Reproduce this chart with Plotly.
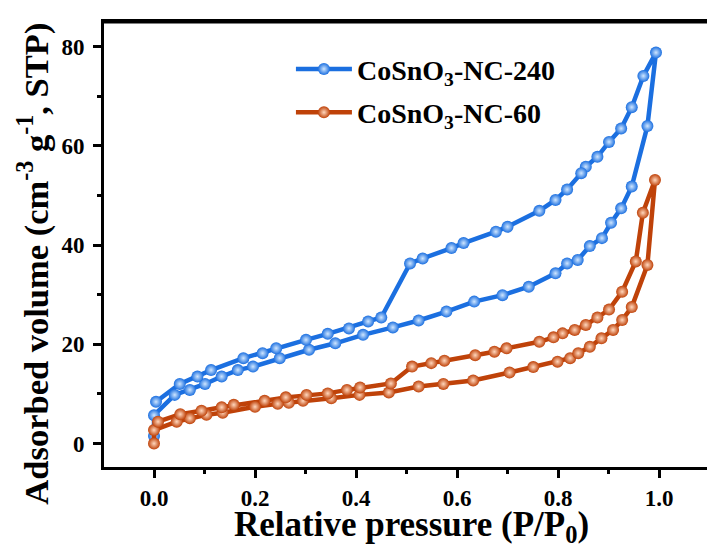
import plotly.graph_objects as go

# CoSnO3-NC-240 adsorption branch
nc240_ads_p = [0.000, 0.000, 0.041, 0.071, 0.101, 0.134, 0.166, 0.196, 0.249, 0.307, 0.359, 0.414,
               0.473, 0.524, 0.579, 0.634, 0.690, 0.742, 0.795, 0.818, 0.839, 0.863, 0.887, 0.905,
               0.925, 0.946, 0.977, 0.994]
nc240_ads_v = [1.5, 5.7, 9.8, 10.8, 12.0, 13.5, 14.8, 15.5, 17.2, 18.9, 20.2, 21.9,
               23.4, 24.8, 26.6, 28.6, 29.9, 31.6, 34.3, 36.3, 37.0, 39.8, 41.4, 44.5,
               47.4, 51.8, 64.0, 78.8]
# CoSnO3-NC-240 desorption branch
nc240_des_p = [0.969, 0.946, 0.925, 0.901, 0.878, 0.855, 0.846, 0.818, 0.795, 0.763, 0.700, 0.677,
               0.613, 0.589, 0.532, 0.507, 0.450, 0.424, 0.386, 0.344, 0.301, 0.242, 0.215, 0.177,
               0.113, 0.086, 0.051, 0.004]
nc240_des_v = [74.1, 67.8, 63.5, 60.8, 57.8, 55.8, 54.5, 51.2, 49.1, 46.9, 43.7, 42.7,
               40.4, 39.4, 37.3, 36.3, 25.4, 24.6, 23.2, 22.1, 20.9, 19.2, 18.2, 17.2,
               14.8, 13.5, 12.0, 8.4]

# CoSnO3-NC-60 adsorption branch
nc60_ads_p = [0.000, 0.000, 0.045, 0.071, 0.104, 0.136, 0.200, 0.245, 0.267, 0.295, 0.351, 0.407,
              0.465, 0.524, 0.573, 0.632, 0.704, 0.751, 0.799, 0.824, 0.840, 0.863, 0.886, 0.909,
              0.927, 0.946, 0.977, 0.992]
nc60_ads_v = [0.0, 2.7, 4.4, 5.1, 5.8, 6.2, 7.4, 8.0, 8.2, 8.6, 9.1, 9.8,
              10.3, 11.5, 12.0, 12.7, 14.3, 15.4, 16.5, 17.2, 18.2, 19.5, 21.2, 22.9,
              24.9, 27.5, 36.0, 53.1]
# CoSnO3-NC-60 desorption branch
nc60_des_p = [0.968, 0.954, 0.927, 0.901, 0.878, 0.855, 0.833, 0.809, 0.791, 0.763, 0.698, 0.674,
              0.636, 0.575, 0.549, 0.511, 0.469, 0.408, 0.382, 0.344, 0.302, 0.261, 0.219, 0.158,
              0.134, 0.094, 0.052, 0.008]
nc60_des_v = [46.5, 36.7, 30.6, 27.0, 25.4, 23.9, 22.9, 22.2, 21.4, 20.5, 19.2, 18.5,
              17.8, 16.7, 16.2, 15.5, 12.1, 11.3, 10.8, 10.1, 9.8, 9.3, 8.6, 7.8,
              7.3, 6.6, 5.9, 4.4]

series_names = ["CoSnO<sub>3</sub>-NC-240", "CoSnO<sub>3</sub>-NC-60"]
x_title = "Relative pressure (P/P<sub>0</sub>)"
y_title = "Adsorbed volume (cm<sup>-3</sup> g<sup>-1</sup>, STP)"
x_ticks = [0.0, 0.2, 0.4, 0.6, 0.8, 1.0]
x_tick_labels = ["0.0", "0.2", "0.4", "0.6", "0.8", "1.0"]
y_ticks = [0, 20, 40, 60, 80]
y_tick_labels = ["0", "20", "40", "60", "80"]

BLUE = "#1b6fe0"
BLUE_HL = "#cfe6ff"
ORANGE = "#bf4209"
ORANGE_HL = "#ffd7bd"
FONT = "Liberation Serif"

fig = go.Figure()
for name, xs, ys, col, hl, grp in [
    (series_names[0], nc240_ads_p + nc240_des_p, nc240_ads_v + nc240_des_v, BLUE, BLUE_HL, "a"),
    (series_names[1], nc60_ads_p + nc60_des_p, nc60_ads_v + nc60_des_v, ORANGE, ORANGE_HL, "b"),
]:
    fig.add_trace(go.Scatter(
        x=xs, y=ys, name=name, mode="lines+markers", legendgroup=grp,
        line=dict(color=col, width=4.5),
        marker=dict(size=12, color=col, line=dict(width=0),
                    gradient=dict(type="radial", color=hl)),
    ))

fig.update_layout(
    width=707, height=554,
    margin=dict(l=104, r=0, t=22, b=87, autoexpand=False),
    paper_bgcolor="white", plot_bgcolor="white",
    font=dict(family=FONT, color="black", size=23, weight="bold"),
    showlegend=True,
    legend=dict(x=0.31, y=0.95, xanchor="left", yanchor="top", itemwidth=56,
                bgcolor="rgba(0,0,0,0)", tracegroupgap=4,
                font=dict(family=FONT, size=28, color="black", weight="bold")),
    xaxis=dict(
        range=[-0.099, 1.095], tickvals=x_ticks, ticktext=x_tick_labels, automargin=False,
        showgrid=False, zeroline=False, showline=True, linecolor="black", linewidth=3,
        mirror=True, ticks="outside", ticklen=8, tickwidth=3, tickcolor="black",
        minor=dict(dtick=0.1, tick0=0, ticks="outside", ticklen=4, tickwidth=3, tickcolor="black"),
        tickfont=dict(family=FONT, size=23, weight="bold"),
    ),
    yaxis=dict(
        range=[-4.74, 84.97], tickvals=y_ticks, ticktext=y_tick_labels, automargin=False,
        showgrid=False, zeroline=False, showline=True, linecolor="black", linewidth=3,
        mirror=False, ticks="outside", ticklen=8, tickwidth=3, tickcolor="black",
        minor=dict(dtick=10, tick0=0, ticks="outside", ticklen=4, tickwidth=3, tickcolor="black"),
        tickfont=dict(family=FONT, size=23, weight="bold"),
        ticklabelstandoff=4,
    ),
    shapes=[dict(type="line", xref="paper", yref="paper", x0=-0.0025, x1=1, y0=1, y1=1,
                 line=dict(color="black", width=3))],
    annotations=[
        dict(text=x_title, xref="paper", yref="paper", x=0.51, y=-0.082,
             xanchor="center", yanchor="top", showarrow=False,
             font=dict(family=FONT, size=35, color="black", weight="bold")),
        dict(text=y_title, xref="paper", yref="paper", x=-0.117, y=0.458,
             xanchor="center", yanchor="middle", showarrow=False, textangle=-90,
             font=dict(family=FONT, size=34.5, color="black", weight="bold")),
    ],
)

fig.write_html("out.html", config={"displayModeBar": False},
               post_script="document.body.style.margin='0px';")
